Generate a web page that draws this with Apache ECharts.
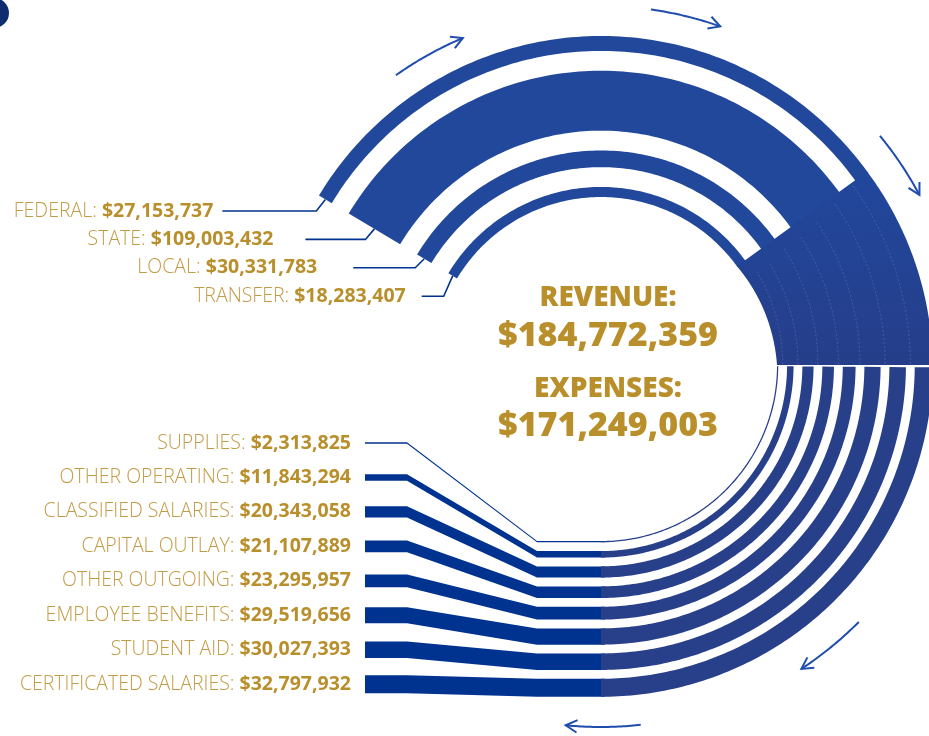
<!DOCTYPE html>
<html>
<head>
<meta charset="UTF-8">
<title>Revenue and expenses</title>
<script src="https://cdn.jsdelivr.net/npm/echarts@6/dist/echarts.min.js"></script>
<style>html,body{margin:0;padding:0;background:#fff;}</style>
</head>
<body>
<div id="main" style="width:929px;height:736px;"></div>
<script>
// ---- data (dollars) ----
var revNames = ['FEDERAL', 'STATE', 'LOCAL', 'TRANSFER'];
var revValues = [27153737, 109003432, 30331783, 18283407];
var expNames = ['SUPPLIES', 'OTHER OPERATING', 'CLASSIFIED SALARIES', 'CAPITAL OUTLAY',
  'OTHER OUTGOING', 'EMPLOYEE BENEFITS', 'STUDENT AID', 'CERTIFICATED SALARIES'];
var expValues = [2313825, 11843294, 20343058, 21107889, 23295957, 29519656, 30027393, 32797932];
var totalNames = ['REVENUE:', 'EXPENSES:'];
var totalValues = [184772359, 171249003];

// ---- layout (pixels / degrees) ----
var CX = 601, CY = 365, POLAR_R = 385, RMAX = 700e6;
var U = RMAX / POLAR_R;            // radius-axis units per pixel
var REV_HOLE = 168 * U, REV_GAP = 19.8 * U;
var EXP_HOLE = 176 * U, EXP_GAP = 8.8 * U;
var A_START = 149, A_MERGE = 36, A_SPLIT = 359.6, A_END = 270;
var ROW_Y0 = 443, ROW_STEP = 34.45;
var REV_ROW_Y0 = 211, REV_ROW_STEP = 28.4;
var BEND_R = 537, BEND_L = 407, LINE_X0 = 365, LABEL_X = 351;
var revLeaderLen = [94, 60, 62, 22];
var revLabelGap = [9, 32, 36, 16];
// decorative arrows: radius px, from angle, to angle
var arrowArcs = [[355, 125.3, 112.9], [359, 82, 70.6], [361, 39.4, 28.1], [364, 315.1, 303.4], [362, 276.3, 264.4]];

var BLUE = '#22489C', EXP_BLUE = '#283F8A', LINE_BLUE = '#00338F', ARROW = '#1E4DAE';
var GOLD = '#B98F2C', GOLD_LIGHT = '#C29B45';
var RICH = {
  n: { fontFamily: 'Open Sans', fontWeight: 300, fontSize: 19.5, fill: GOLD_LIGHT, color: GOLD_LIGHT },
  v: { fontFamily: 'Open Sans', fontWeight: 700, fontSize: 19.5, fill: GOLD, color: GOLD }
};

function money(v) {
  return '$' + String(v).replace(/\B(?=(\d{3})+(?!\d))/g, ',');
}

// band radii from the values
var revBands = [], r = REV_HOLE;
for (var i = revValues.length - 1; i >= 0; i--) {
  revBands[i] = [r, r + revValues[i], i];
  r += revValues[i] + REV_GAP;
}
var REV_OUTER = r - REV_GAP;
var expBands = [], r2 = EXP_HOLE;
for (var j = 0; j < expValues.length; j++) {
  expBands.push([r2, r2 + expValues[j], j]);
  r2 += expValues[j] + EXP_GAP;
}
var EXP_OUTER = r2 - EXP_GAP;

function arc(api, ra, rb, a0, a1, n) {
  var pts = [];
  for (var k = 0; k <= n; k++) {
    var t = k / n;
    pts.push(api.coord([ra + (rb - ra) * t, a0 + (a1 - a0) * t]));
  }
  return pts;
}
function band(api, r0, r1, a0, a1, n) {
  return arc(api, r1, r1, a0, a1, n).concat(arc(api, r0, r0, a1, a0, n));
}

function renderRevenue(params, api) {
  var i = params.dataIndex, r0 = api.value(0), r1 = api.value(1);
  var m = api.coord([(r0 + r1) / 2, A_START]);
  var d = [m[0] - 9, REV_ROW_Y0 + i * REV_ROW_STEP];
  var h = [d[0] - revLeaderLen[i], d[1]];
  return {
    type: 'group',
    children: [
      { type: 'polyline', shape: { points: [m, d, h] }, style: { stroke: LINE_BLUE, lineWidth: 1.6, fill: null } },
      { type: 'polygon', shape: { points: band(api, r0, r1, A_START, A_MERGE - 0.3, 120) }, style: { fill: BLUE } },
      { type: 'text', x: h[0] - revLabelGap[i], y: d[1], style: {
        text: '{n|' + revNames[i] + ': }{v|' + money(revValues[i]) + '}', rich: RICH,
        align: 'right', verticalAlign: 'middle', textAlign: 'right', textVerticalAlign: 'middle' } }
    ]
  };
}

function renderMerge(params, api) {
  var pts = arc(api, api.value(1), api.value(3), A_MERGE, 0, 60)
    .concat(arc(api, api.value(2), api.value(0), 0, A_MERGE, 60));
  var kids = [{
    type: 'polygon', shape: { points: pts },
    style: { fill: new echarts.graphic.LinearGradient(0, 0, 0, 1, [
      { offset: 0, color: '#21479C' }, { offset: 1, color: '#263E8A' }]) }
  }];
  // faint seams where the expense bands separate out of the merged flow
  for (var k = 1; k < expBands.length; k++) {
    var rs = (expBands[k - 1][1] + expBands[k][0]) / 2;
    kids.push({ type: 'polyline', shape: { points: arc(api, rs, rs, 0.2, A_MERGE - 6 + k * 0.8, 40) },
      style: { stroke: 'rgba(170,190,235,0.28)', lineWidth: 0.8, lineDash: [2, 2], fill: null } });
  }
  return { type: 'group', children: kids };
}

function renderExpense(params, api) {
  var i = params.dataIndex, r0 = api.value(0), r1 = api.value(1);
  var pIn = api.coord([r0, A_END]), pOut = api.coord([r1, A_END]);
  var t = pOut[1] - pIn[1], y = ROW_Y0 + i * ROW_STEP;
  var line = [[pIn[0] + 4, pIn[1]], [BEND_R, pIn[1]], [BEND_L, y - t / 2], [LINE_X0, y - t / 2],
    [LINE_X0, y + t / 2], [BEND_L, y + t / 2], [BEND_R, pOut[1]], [pIn[0] + 4, pOut[1]]];
  return {
    type: 'group',
    children: [
      { type: 'polygon', shape: { points: line }, style: { fill: LINE_BLUE } },
      { type: 'polygon', shape: { points: band(api, r0, r1, A_SPLIT, A_END, 120) }, style: { fill: EXP_BLUE } },
      { type: 'text', x: LABEL_X, y: y, style: {
        text: '{n|' + expNames[i] + ': }{v|' + money(expValues[i]) + '}', rich: RICH,
        align: 'right', verticalAlign: 'middle', textAlign: 'right', textVerticalAlign: 'middle' } }
    ]
  };
}

function renderArrow(params, api) {
  var rr = api.value(0) * U;
  var pts = arc(api, rr, rr, api.value(1), api.value(2), 30);
  var e = pts[pts.length - 1], p = pts[pts.length - 3];
  var ang = Math.atan2(e[1] - p[1], e[0] - p[0]), L = 13, s = 0.5;
  var h1 = [e[0] - L * Math.cos(ang - s), e[1] - L * Math.sin(ang - s)];
  var h2 = [e[0] - L * Math.cos(ang + s), e[1] - L * Math.sin(ang + s)];
  return {
    type: 'group',
    children: [
      { type: 'polyline', shape: { points: pts }, style: { stroke: ARROW, lineWidth: 2, fill: null } },
      { type: 'polyline', shape: { points: [h1, e, h2] }, style: { stroke: ARROW, lineWidth: 2, fill: null } }
    ]
  };
}

var chart = echarts.init(document.getElementById('main'));
var totalStyle = function (txt, y, size) {
  return { type: 'text', x: 608, y: y, style: {
    text: txt, font: '800 ' + size + 'px "Open Sans"', fill: GOLD,
    align: 'center', verticalAlign: 'middle', textAlign: 'center', textVerticalAlign: 'middle' } };
};
chart.setOption({
  backgroundColor: '#fff',
  animation: false,
  polar: { center: [CX, CY], radius: POLAR_R },
  angleAxis: { type: 'value', min: 0, max: 360, startAngle: 0, clockwise: false,
    axisLine: { show: false }, axisTick: { show: false }, axisLabel: { show: false }, splitLine: { show: false } },
  radiusAxis: { type: 'value', min: 0, max: RMAX,
    axisLine: { show: false }, axisTick: { show: false }, axisLabel: { show: false }, splitLine: { show: false } },
  graphic: [
    { type: 'circle', shape: { cx: -6, cy: 13, r: 15 }, style: { fill: '#0E2D6E' } },
    totalStyle(totalNames[0], 298, 28),
    totalStyle(money(totalValues[0]), 336, 34),
    totalStyle(totalNames[1], 389, 28),
    totalStyle(money(totalValues[1]), 426, 34)
  ],
  series: [
    { type: 'custom', coordinateSystem: 'polar', clip: false, renderItem: renderArrow, data: arrowArcs, silent: true },
    { type: 'custom', coordinateSystem: 'polar', clip: false, renderItem: renderRevenue, data: revBands, silent: true },
    { type: 'custom', coordinateSystem: 'polar', clip: false, renderItem: renderMerge,
      data: [[REV_HOLE, REV_OUTER, EXP_HOLE, EXP_OUTER]], silent: true },
    { type: 'custom', coordinateSystem: 'polar', clip: false, renderItem: renderExpense, data: expBands, silent: true }
  ]
});
</script>
</body>
</html>
